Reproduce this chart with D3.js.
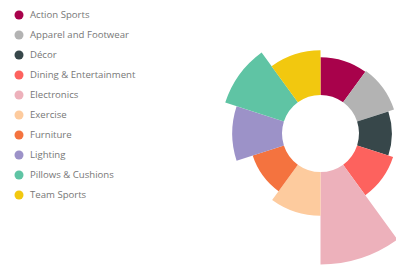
<!DOCTYPE html>
<html>
<head>
<meta charset="utf-8">
<script src="https://d3js.org/d3.v7.min.js"></script>
<style>
body { margin: 0; background: #fff; }
svg { display: block; }
.legend text { font-family: "Open Sans", "Noto Sans", sans-serif; font-size: 9.6px; fill: #777; }
</style>
</head>
<body>
<svg id="chart" width="396" height="266"></svg>
<script>
// categories and their values
const categories = ["Action Sports", "Apparel and Footwear", "Décor", "Dining & Entertainment",
  "Electronics", "Exercise", "Furniture", "Lighting", "Pillows & Cushions", "Team Sports"]
const values = [38, 39, 33, 38, 93, 44, 33, 50, 62, 45]
const colors = ["#A8024B", "#B3B3B3", "#37474A", "#FD625E", "#EDB1BB",
  "#FDCB9E", "#F4733F", "#9C92C8", "#5FC4A4", "#F2C80F"]

const svg = d3.select("#chart")

// legend
const legend = svg.append("g").attr("class", "legend")
const items = legend.selectAll("g").data(categories).enter().append("g")
  .attr("transform", (d, i) => "translate(19," + (15 + i * 20) + ")")
items.append("circle").attr("r", 4.5).attr("fill", (d, i) => colors[i])
items.append("text").attr("x", 11).attr("dy", "0.35em").text(d => d)

// aster / polar area
const cx = 320.5, cy = 133.5
const innerR = 38.5
const r = d3.scaleLinear().domain([0, d3.max(values)]).range([innerR, 131])

const pie = d3.pie().value(1).sort(null)
const arcs = pie(values.map((v, i) => ({ v: v, i: i })))

const arc = d3.arc()
  .innerRadius(innerR)
  .outerRadius(d => r(d.data.v))

svg.append("g")
  .attr("transform", "translate(" + cx + "," + cy + ")")
  .selectAll("path")
  .data(arcs)
  .enter()
  .append("path")
  .attr("d", arc)
  .attr("fill", d => colors[d.data.i])
</script>
</body>
</html>
